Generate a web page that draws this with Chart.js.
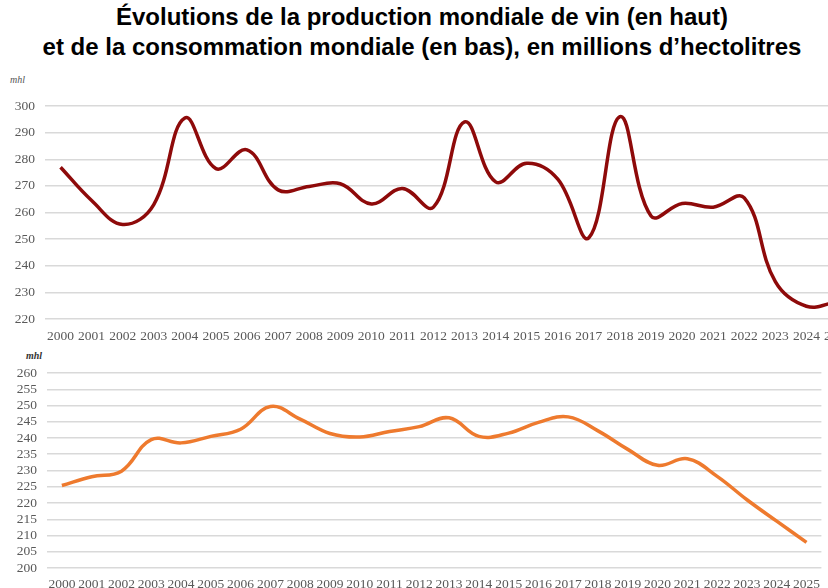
<!DOCTYPE html>
<html>
<head>
<meta charset="utf-8">
<script src="https://cdn.jsdelivr.net/npm/chart.js@4"></script>
<style>
  html, body { margin: 0; padding: 0; background: #fff; overflow: hidden; }
  body { width: 828px; height: 588px; position: relative; }
  #title {
    position: absolute; left: 8px; top: 2px; width: 828px;
    text-align: center; font-family: "Liberation Sans", Arial, sans-serif;
    font-weight: bold; font-size: 24px; line-height: 30px; color: #000;
  }
  .unit {
    position: absolute; font-family: "Liberation Serif", serif; font-style: italic;
    font-size: 10px; color: #555;
  }
  #topWrap { position: absolute; left: 0; top: 60px; width: 860px; height: 290px; }
  #botWrap { position: absolute; left: 0; top: 345px; width: 828px; height: 243px; }
</style>
</head>
<body>
<div id="title">Évolutions de la production mondiale de vin (en haut)<br>et de la consommation mondiale (en bas), en millions d’hectolitres</div>
<div class="unit" style="left:10px; top:74px;">mhl</div>
<div class="unit" style="left:26px; top:350px; font-weight:bold; color:#333;">mhl</div>
<div id="topWrap"><canvas id="prodChart"></canvas></div>
<div id="botWrap"><canvas id="consChart"></canvas></div>
<script>
// Data
const years = ['2000','2001','2002','2003','2004','2005','2006','2007','2008','2009','2010','2011','2012',
  '2013','2014','2015','2016','2017','2018','2019','2020','2021','2022','2023','2024','2025'];
const production = [277, 264.5, 255.5, 263, 295.5, 276.5, 283.5, 268.5, 269.8, 270.8, 263.2, 269, 262,
  294, 271.5, 278.5, 272.5, 250.5, 296, 258.7, 263.4, 262, 265.5, 234, 224.8, 226.5];
const consumption = [225.4, 228.1, 229.8, 239.5, 238.5, 240.5, 242.7, 249.7, 245.8, 241.4, 240.3, 242, 243.5,
  246.2, 240.5, 241.5, 244.8, 246.5, 242.2, 236.5, 231.6, 233.6, 228.2, 221, 214.4, 207.9];
const prodTicks = { min: 220, max: 300, step: 10 };
const consTicks = { min: 200, max: 260, step: 5 };

const tickFont = { family: 'Liberation Serif', size: 13.5 };
const tickColor = '#595959';
const gridColor = '#d9d9d9';

function makeChart(id, values, color, range, yWidth, padTop, xHeight, xPad) {
  return new Chart(document.getElementById(id), {
    type: 'line',
    data: {
      labels: years,
      datasets: [{
        data: values,
        borderColor: color,
        borderWidth: 3.5,
        pointRadius: 0,
        tension: 0.4,
        fill: false
      }]
    },
    options: {
      responsive: true,
      maintainAspectRatio: false,
      animation: false,
      layout: { padding: { top: padTop, left: 0, right: 0, bottom: 0 } },
      plugins: { legend: { display: false }, tooltip: { enabled: false } },
      scales: {
        x: {
          offset: true,
          grid: { display: false, drawTicks: false },
          border: { display: false },
          ticks: { color: tickColor, font: tickFont, padding: xPad, autoSkip: false, maxRotation: 0 },
          afterFit: s => { s.height = xHeight; }
        },
        y: {
          min: range.min,
          max: range.max,
          grid: { color: gridColor, lineWidth: 1.5, drawTicks: false },
          border: { display: false },
          ticks: { stepSize: range.step, maxTicksLimit: 30, autoSkip: false, color: tickColor, font: tickFont, padding: 10 },
          afterFit: s => { s.width = yWidth; }
        }
      }
    }
  });
}

const prodChart = makeChart('prodChart', production, '#8e0a0a', prodTicks, 45, 46, 31, 9);
const consChart = makeChart('consChart', consumption, '#ee7a2e', consTicks, 47, 28, 20, 8);
</script>
</body>
</html>
